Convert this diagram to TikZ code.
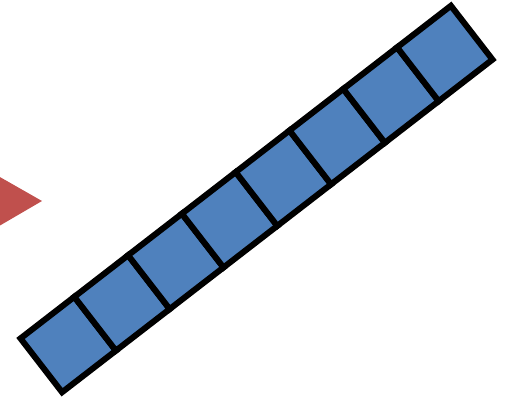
\documentclass[tikz,border=0pt]{standalone}
\definecolor{cellblue}{HTML}{4F81BD}
\definecolor{arrowred}{HTML}{C0504D}
\tikzset{cell/.style={fill=cellblue,draw=black,line width=6pt,line join=miter}}
\begin{document}
\begin{tikzpicture}[x=1pt,y=1pt]
\useasboundingbox (0,0) rectangle (506,399);
\clip (0,0) rectangle (506,399);
% red triangle at left edge
\fill[arrowred] (42,198) -- (-30,239) -- (-30,156) -- cycle;
% strip of squares
\begin{scope}[shift={(256.5,200)},rotate=37.7]
\foreach \i in {0,...,7}{
  \draw[cell] ({-272+68*\i},-34) rectangle ({-272+68*(\i+1)},34);
}
\end{scope}
\end{tikzpicture}
\end{document}
